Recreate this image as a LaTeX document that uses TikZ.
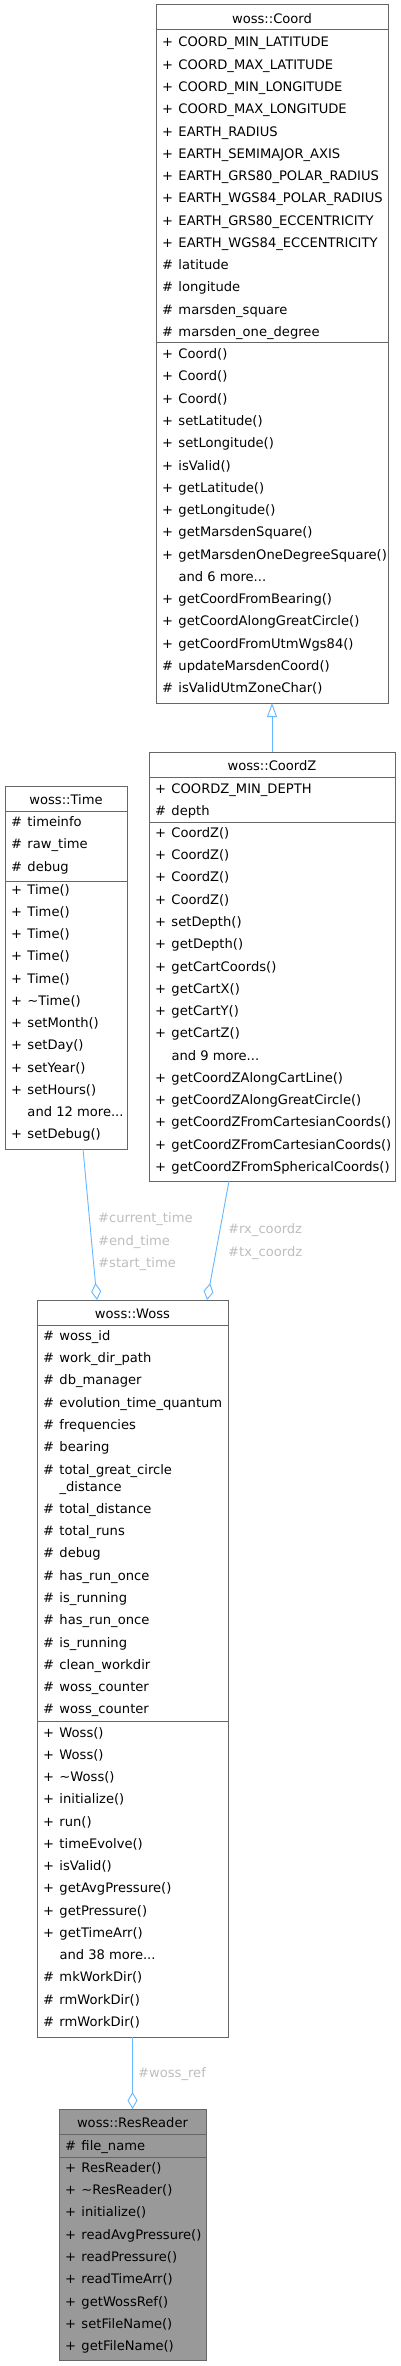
\documentclass[tikz,border=0pt]{standalone}
\usepackage{fontspec}
\setmainfont{DejaVu Sans}
\usetikzlibrary{arrows.meta}
\definecolor{boxgray}{HTML}{666666}
\definecolor{edgeblue}{HTML}{63B8FF}
\definecolor{lblgray}{HTML}{BEBEBE}
\definecolor{curfill}{HTML}{999999}
\newcommand\memfont{\fontsize{13.1}{16}\selectfont}
\newcommand\symb[1]{\makebox[16.3pt][l]{#1}}
\newcommand\mydots{...}
\begin{document}
\begin{tikzpicture}[x=1pt,y=-1pt,
  classbox/.style={draw=boxgray, line width=1pt, fill=white, inner sep=0pt, outer sep=0pt, anchor=north west},
  curbox/.style={classbox, fill=curfill},
  secline/.style={draw=boxgray, line width=1pt},
  mem/.style={anchor=base west, inner sep=0pt, font=\memfont, text=black},
  ttl/.style={anchor=base, inner sep=0pt, font=\memfont, text=black},
  lbl/.style={anchor=base west, inner sep=0pt, font=\memfont, text=lblgray},
  rel/.style={draw=edgeblue, line width=0.9pt},
  inh/.style={rel, -{Triangle[length=14pt, width=10pt, fill=white]}},
  agg/.style={rel, {Diamond[length=17pt, width=10pt, fill=white]}-}
]
\fill[white] (0,0) rectangle (400,2366);
\useasboundingbox (0,0) rectangle (400,2366);

% ---------- woss::Coord ----------
\node[classbox, minimum width=232pt, minimum height=698pt] (coord) at (156,5) {};
\draw[secline] (156,30) -- (388,30);
\draw[secline] (156,342) -- (388,342);
\node[ttl] (coordT) at (272,23.5) {woss::Coord};
\foreach \s/\t [count=\i from 0] in {
  +/COORD\_MIN\_LATITUDE, +/COORD\_MAX\_LATITUDE, +/COORD\_MIN\_LONGITUDE,
  +/COORD\_MAX\_LONGITUDE, +/EARTH\_RADIUS, +/EARTH\_SEMIMAJOR\_AXIS,
  +/EARTH\_GRS80\_POLAR\_RADIUS, +/EARTH\_WGS84\_POLAR\_RADIUS,
  +/EARTH\_GRS80\_ECCENTRICITY, +/EARTH\_WGS84\_ECCENTRICITY,
  \#/latitude, \#/longitude, \#/marsden\_square, \#/marsden\_one\_degree}
  \node[mem] (coordA\i) at (162,{47+\i*22.27}) {\symb{\s}\t};
\foreach \s/\t [count=\i from 0] in {
  +/Coord(), +/Coord(), +/Coord(), +/setLatitude(), +/setLongitude(), +/isValid(),
  +/getLatitude(), +/getLongitude(), +/getMarsdenSquare(), +/getMarsdenOneDegreeSquare(),
  {}/and 6 more\mydots, +/getCoordFromBearing(), +/getCoordAlongGreatCircle(),
  +/getCoordFromUtmWgs84(), \#/updateMarsdenCoord(), \#/isValidUtmZoneChar()}
  \node[mem] (coordM\i) at (162,{358.7+\i*22.27}) {\symb{\s}\t};

% ---------- woss::CoordZ ----------
\node[classbox, minimum width=246pt, minimum height=429pt] (coordz) at (149,752) {};
\draw[secline] (149,777) -- (395,777);
\draw[secline] (149,822) -- (395,822);
\node[ttl] (coordzT) at (272,770.5) {woss::CoordZ};
\foreach \s/\t [count=\i from 0] in {+/COORDZ\_MIN\_DEPTH, \#/depth}
  \node[mem] (coordzA\i) at (155,{793+\i*22.27}) {\symb{\s}\t};
\foreach \s/\t [count=\i from 0] in {
  +/CoordZ(), +/CoordZ(), +/CoordZ(), +/CoordZ(), +/setDepth(), +/getDepth(),
  +/getCartCoords(), +/getCartX(), +/getCartY(), +/getCartZ(), {}/and 9 more\mydots,
  +/getCoordZAlongCartLine(), +/getCoordZAlongGreatCircle(),
  +/getCoordZFromCartesianCoords(), +/getCoordZFromCartesianCoords(),
  +/getCoordZFromSphericalCoords()}
  \node[mem] (coordzM\i) at (155,{837.4+\i*22.27}) {\symb{\s}\t};

% ---------- woss::Time ----------
\node[classbox, minimum width=122pt, minimum height=363pt] (time) at (5,786) {};
\draw[secline] (5,811) -- (127,811);
\draw[secline] (5,881) -- (127,881);
\node[ttl] (timeT) at (66,804.5) {woss::Time};
\foreach \s/\t [count=\i from 0] in {\#/timeinfo, \#/raw\_time, \#/debug}
  \node[mem] (timeA\i) at (11,{826.7+\i*22.27}) {\symb{\s}\t};
\foreach \s/\t [count=\i from 0] in {
  +/Time(), +/Time(), +/Time(), +/Time(), +/Time(), +/\textasciitilde Time(),
  +/setMonth(), +/setDay(), +/setYear(), +/setHours(), {}/and 12 more\mydots, +/setDebug()}
  \node[mem] (timeM\i) at (11,{894+\i*22.27}) {\symb{\s}\t};

% ---------- woss::Woss ----------
\node[classbox, minimum width=191pt, minimum height=737pt] (woss) at (37,1300) {};
\draw[secline] (37,1325) -- (228,1325);
\draw[secline] (37,1721) -- (228,1721);
\node[ttl] (wossT) at (132.5,1318.5) {woss::Woss};
\foreach \s/\t [count=\i from 0] in {
  \#/woss\_id, \#/work\_dir\_path, \#/db\_manager, \#/evolution\_time\_quantum,
  \#/frequencies, \#/bearing, \#/total\_great\_circle}
  \node[mem] (wossA\i) at (43,{1340.4+\i*22.27}) {\symb{\s}\t};
\node[mem] (wossAcont) at (43,1491.4) {\symb{}\_distance};
\foreach \s/\t [count=\i from 0] in {
  \#/total\_distance, \#/total\_runs, \#/debug, \#/has\_run\_once, \#/is\_running,
  \#/has\_run\_once, \#/is\_running, \#/clean\_workdir, \#/woss\_counter, \#/woss\_counter}
  \node[mem] (wossB\i) at (43,{1513.4+\i*22.27}) {\symb{\s}\t};
\foreach \s/\t [count=\i from 0] in {
  +/Woss(), +/Woss(), +/\textasciitilde Woss(), +/initialize(), +/run(), +/timeEvolve(),
  +/isValid(), +/getAvgPressure(), +/getPressure(), +/getTimeArr(), {}/and 38 more\mydots,
  \#/mkWorkDir(), \#/rmWorkDir(), \#/rmWorkDir()}
  \node[mem] (wossM\i) at (43,{1737+\i*22.27}) {\symb{\s}\t};

% ---------- woss::ResReader ----------
\node[curbox, minimum width=147pt, minimum height=251pt] (resreader) at (59,2109) {};
\draw[secline] (59,2134) -- (206,2134);
\draw[secline] (59,2157) -- (206,2157);
\node[ttl] (resreaderT) at (132.5,2127.5) {woss::ResReader};
\node[mem] (resreaderA0) at (65,2150.7) {\symb{\#}file\_name};
\foreach \s/\t [count=\i from 0] in {
  +/ResReader(), +/\textasciitilde ResReader(), +/initialize(), +/readAvgPressure(),
  +/readPressure(), +/readTimeArr(), +/getWossRef(), +/setFileName(), +/getFileName()}
  \node[mem] (resreaderM\i) at (65,{2172.4+\i*22.27}) {\symb{\s}\t};

% ---------- connectors ----------
\draw[inh] (coordz.north) -- (coord.south);

\coordinate (timeOut) at (83,1149);
\coordinate (wossIn1) at (97,1300);
\coordinate (coordzOut) at (229,1181);
\coordinate (wossIn2) at (207,1300);
\draw[agg] (wossIn1) -- (timeOut);
\draw[agg] (wossIn2) -- (coordzOut);
\draw[agg] (resreader.north) -- (woss.south);

\node[lbl] (lblCur) at (98,1222.7) {\#current\_time};
\node[lbl] (lblEnd) at (98,1245.7) {\#end\_time};
\node[lbl] (lblStart) at (98,1267.4) {\#start\_time};
\node[lbl] (lblRx) at (228,1233.7) {\#rx\_coordz};
\node[lbl] (lblTx) at (228,1256.4) {\#tx\_coordz};
\node[lbl] (lblRef) at (138,2077.7) {\#woss\_ref};
\end{tikzpicture}
\end{document}
